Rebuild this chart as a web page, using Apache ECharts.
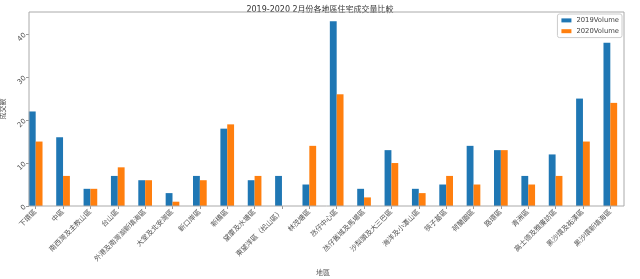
<!DOCTYPE html>
<html><head><meta charset="utf-8">
<script src="https://cdn.jsdelivr.net/npm/echarts@6/dist/echarts.min.js"></script>
<style>html,body{margin:0;padding:0;background:#fff}#c{width:640px;height:279px}</style>
</head><body><div id="c"></div>
<script>
const categories = ["下環區","中區","南西灣及主教山區","台山區","外港及南灣湖新填海區","大堂及北安灣區","新口岸區","新橋區","望廈及水塘區","東望洋區（松山區）","林茂塘區","氹仔中心區","氹仔舊城及馬場區","沙梨頭及大三巴區","海洋及小潭山區","筷子基區","荷蘭園區","路環區","青洲區","高士德及雅廉訪區","黑沙環及祐漢區","黑沙環新填海區"];
const vol2019 = [22,16,4,7,6,3,7,18,6,7,5,43,4,13,4,5,14,13,7,12,25,38];
const vol2020 = [15,7,4,9,6,1,6,19,7,0,14,26,2,10,3,7,5,13,5,7,15,24];
const yMax = 45.15;
const yStep = 10;
const FONT = "'DejaVu Sans','Noto Sans CJK TC',sans-serif";
const chart = echarts.init(document.getElementById('c'));
chart.setOption({
  animation:false,
  textStyle:{fontFamily:FONT},
  title:{text:'2019-2020 2月份各地區住宅成交量比較',left:'center',top:1,textStyle:{fontSize:8,fontWeight:'normal',color:'#333',fontFamily:FONT}},
  legend:{orient:'vertical',right:18,top:14,itemWidth:10,itemHeight:4,itemGap:4,padding:[3,3,3,4],borderColor:'#ccc',borderWidth:1,borderRadius:2,
    textStyle:{fontSize:6.8,color:'#444',fontFamily:FONT},icon:'rect',data:['2019Volume','2020Volume']},
  grid:[{left:22,right:16,top:12,bottom:73,containLabel:false,outerBoundsMode:'none'},
        {left:29,right:16,top:12,bottom:73,containLabel:false,outerBoundsMode:'none'}],
  graphic:[{type:'rect',shape:{x:29,y:12,width:595,height:194},style:{fill:'none',stroke:'#aaa',lineWidth:1},z:10}],
  xAxis:[{type:'category',data:categories,boundaryGap:true,gridIndex:0,
    name:'地區',nameLocation:'middle',nameGap:60,nameTextStyle:{fontSize:7,color:'#555',fontFamily:FONT},
    axisLine:{show:false},axisTick:{show:true,alignWithLabel:true,length:3,lineStyle:{color:'#999'}},
    axisLabel:{rotate:45,fontSize:7,color:'#555',margin:5,interval:0,fontFamily:FONT}},
    {type:'value',gridIndex:1,show:false,min:0,max:1}],
  yAxis:[{type:'value',gridIndex:0,min:0,max:yMax,interval:yStep,show:false,splitLine:{show:false}},
    {type:'value',gridIndex:1,min:0,max:yMax,interval:yStep,
    name:'成交數',nameLocation:'middle',nameGap:12,nameRotate:90,nameTextStyle:{fontSize:7,color:'#555',fontFamily:FONT},
    splitLine:{show:false},axisLine:{show:false},axisTick:{show:true,length:3,lineStyle:{color:'#999'}},
    axisLabel:{rotate:45,fontSize:7,color:'#555',margin:4,fontFamily:FONT,showMaxLabel:false}}],
  series:[
    {name:'2019Volume',type:'bar',data:vol2019,barWidth:'25%',barGap:'0%',itemStyle:{color:'#1f77b4'},xAxisIndex:0,yAxisIndex:0},
    {name:'2020Volume',type:'bar',data:vol2020,barWidth:'25%',barGap:'0%',itemStyle:{color:'#ff7f0e'},xAxisIndex:0,yAxisIndex:0}
  ]
});
</script></body></html>
